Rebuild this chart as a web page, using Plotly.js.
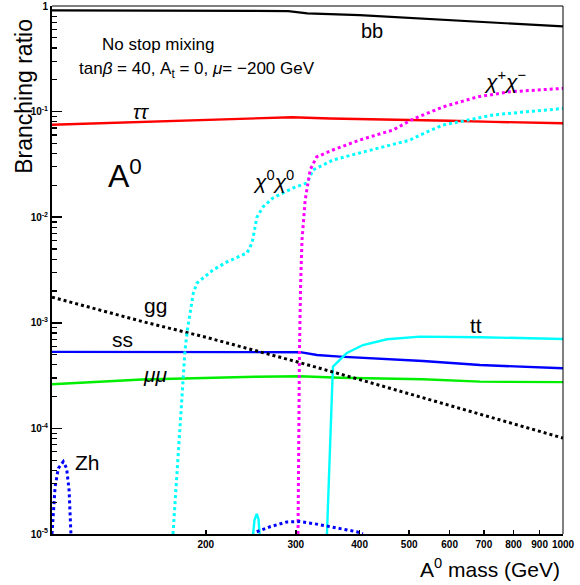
<!DOCTYPE html>
<html>
<head>
<meta charset="utf-8">
<script src="https://cdn.plot.ly/plotly-3.0.1.min.js"></script>
<style>html,body{margin:0;padding:0;background:#fff;}#chart{width:580px;height:585px;}</style>
</head>
<body>
<div id="chart"></div>
<script>
// ---- data (A0 mass in GeV, branching ratios) ----
const bbMass = [100,150,200,250,290,300,316,400,480,600,750,900,1000];
const bbBR   = [0.91,0.91,0.905,0.90,0.893,0.877,0.853,0.82,0.78,0.74,0.69,0.655,0.64];

const tautauMass = [100,150,200,250,295,350,465,600,730,1000];
const tautauBR   = [0.075,0.080,0.0835,0.086,0.0885,0.086,0.0845,0.082,0.080,0.0775];

const chi0Mass = [172.5,175.6,179.4,182.1,184,186.2,189,192,197.5,206.5,220,240.8,246.3,250,251.8,258.8,270.7,296.2,315.6,324.3,354.6,400,502,525,582,628,729,850,1000];
const chi0BR   = [1e-5,4.0e-5,1.86e-4,5.5e-4,8.5e-4,1.23e-3,1.9e-3,2.37e-3,2.65e-3,3.16e-3,3.77e-3,4.58e-3,5.7e-3,8.0e-3,0.0100,0.0125,0.0152,0.0189,0.0211,0.028,0.0348,0.0406,0.0538,0.060,0.0747,0.0802,0.0929,0.0998,0.107];

const chipmMass = [303,303.6,305,306.6,308.5,313,320,329.5,354.5,400,465,509,583,681,787,1000];
const chipmBR   = [1e-5,6.2e-5,5.5e-4,2.38e-3,6.1e-3,0.0146,0.028,0.0372,0.0433,0.0538,0.067,0.085,0.111,0.138,0.154,0.166];

const ggMass = [100,150,200,300,400,500,600,800,1000];
const ggBR   = [1.75e-3,1.03e-3,7.3e-4,4.3e-4,2.9e-4,2.13e-4,1.64e-4,1.1e-4,8.1e-5];

const ssMass = [100,200,250,306,330,366,532,688,1000];
const ssBR   = [5.3e-4,5.3e-4,5.3e-4,5.27e-4,4.95e-4,4.78e-4,4.35e-4,3.98e-4,3.71e-4];

const mumuMass = [100,150,250,306,366,532,688,1000];
const mumuBR   = [2.62e-4,2.9e-4,3.08e-4,3.12e-4,3.02e-4,2.92e-4,2.77e-4,2.74e-4];

const ttMass = [247,249,251.6,253.5,255.3,null,345.2,348.4,350.8,353.2,354.6,362.7,377.7,406.1,452.5,525,688,1000];
const ttBR   = [9e-6,1.35e-5,1.55e-5,1.4e-5,9e-6,null,1e-5,3.25e-5,1.2e-4,2.87e-4,3.84e-4,4.28e-4,5.18e-4,6.16e-4,6.98e-4,7.39e-4,7.3e-4,7.03e-4];

const zhMass = [100,100.6,101.4,102.9,105.2,106.8,108,108.9,null,251.6,267,288,305.8,329.6,366,394.8,406];
const zhBR   = [1e-5,1.69e-5,2.8e-5,4.19e-5,4.84e-5,4.19e-5,2.61e-5,1e-5,null,1.05e-5,1.17e-5,1.3e-5,1.31e-5,1.24e-5,1.13e-5,1.05e-5,1e-5];

const xTickVals = [200,300,400,500,600,700,800,900,1000];
const xTickText = ['200','300','400','500','600','700','800','900','1000'];
const yTickVals = [1e-5,1e-4,1e-3,1e-2,1e-1,1];
const yTickText = ['10<sup>-5</sup>','10<sup>-4</sup>','10<sup>-3</sup>','10<sup>-2</sup>','10<sup>-1</sup>','1'];

// ---- traces ----
function tr(x, y, color, width, dash) {
  return {x: x, y: y, type: 'scatter', mode: 'lines', connectgaps: false,
          line: {color: color, width: width, dash: dash}, hoverinfo: 'skip'};
}
const data = [
  tr(bbMass, bbBR, '#000000', 2.2, 'solid'),
  tr(tautauMass, tautauBR, '#ff0000', 2.4, 'solid'),
  tr(ssMass, ssBR, '#0000ff', 2.4, 'solid'),
  tr(mumuMass, mumuBR, '#00ee00', 2.4, 'solid'),
  tr(ttMass, ttBR, '#00ffff', 2.4, 'solid'),
  tr(ggMass, ggBR, '#000000', 3, 'dot'),
  tr(chi0Mass, chi0BR, '#00ffff', 3, 'dot'),
  tr(chipmMass, chipmBR, '#ff00ff', 3, 'dot'),
  tr(zhMass, zhBR, '#0000ff', 3, 'dot')
];

const minorY = [];
for (let e = -5; e < 0; e++) for (let m = 2; m <= 9; m++) minorY.push(m * Math.pow(10, e));

const F = 'Arial, "Liberation Sans", sans-serif';
function ann(text, x, y, size, extra) {
  return Object.assign({text: text, x: x, y: y, xref: 'paper', yref: 'paper', showarrow: false,
    xanchor: 'center', yanchor: 'middle', font: {family: F, size: size, color: '#000'}}, extra || {});
}

const layout = {
  width: 580, height: 585,
  margin: {l: 52, r: 17, t: 6, b: 51, pad: 0},
  paper_bgcolor: '#fff', plot_bgcolor: '#fff',
  showlegend: false,
  xaxis: {
    type: 'log', range: [2, 3], tickmode: 'array', tickvals: xTickVals, ticktext: xTickText,
    ticks: 'inside', ticklen: 4, tickwidth: 1.5, tickcolor: '#000',
    showgrid: false, zeroline: false, showline: true, linewidth: 2, linecolor: '#000',
    tickfont: {family: F, size: 10, color: '#000', weight: 'bold'}
  },
  yaxis: {
    type: 'log', range: [-5, 0], tickmode: 'array', tickvals: yTickVals, ticktext: yTickText,
    ticks: 'inside', ticklen: 10, tickwidth: 1.5, tickcolor: '#000',
    minor: {tickmode: 'array', tickvals: minorY, ticks: 'inside', ticklen: 5, tickwidth: 1.2, tickcolor: '#000', showgrid: false},
    showgrid: false, zeroline: false, showline: true, linewidth: 2, linecolor: '#000',
    tickfont: {family: F, size: 10, color: '#000', weight: 'bold'}
  },
  shapes: [
    {type: 'line', xref: 'paper', yref: 'paper', x0: 0, x1: 1, y0: 1, y1: 1, line: {color: '#000', width: 1}},
    {type: 'line', xref: 'paper', yref: 'paper', x0: 1, x1: 1, y0: 0, y1: 1, line: {color: '#000', width: 1}}
  ],
  annotations: [
    ann('No stop mixing', 0.2074, 0.928, 17),
    ann('tan<i>β</i> = 40, A<sub>t</sub> = 0, <i>μ</i>= \u2212200 GeV', 0.2847, 0.879, 17),
    ann('bb', 0.626, 0.9527, 20),
    ann('<i>ττ</i>', 0.174, 0.799, 20),
    ann('A<sup>0</sup>', 0.1438, 0.681, 32),
    ann('<i>χ</i><sup>0</sup><i>χ</i><sup>0</sup>', 0.4344, 0.6705, 21),
    ann('<i>χ</i><sup>+</sup><i>χ</i><sup>\u2212</sup>', 0.8865, 0.8598, 21),
    ann('gg', 0.2016, 0.4337, 21),
    ann('ss', 0.137, 0.369, 21),
    ann('<i>μμ</i>', 0.2035, 0.303, 21),
    ann('tt', 0.8297, 0.394, 21),
    ann('Zh', 0.0685, 0.1345, 21),
    ann('Branching ratio', -0.0548, 0.83, 23, {textangle: -90}),
    ann('A<sup>0</sup> mass (GeV)', 0.998, -0.0644, 21, {xanchor: 'right'})
  ]
};

Plotly.newPlot('chart', data, layout, {staticPlot: true, displayModeBar: false});
</script>
</body>
</html>
